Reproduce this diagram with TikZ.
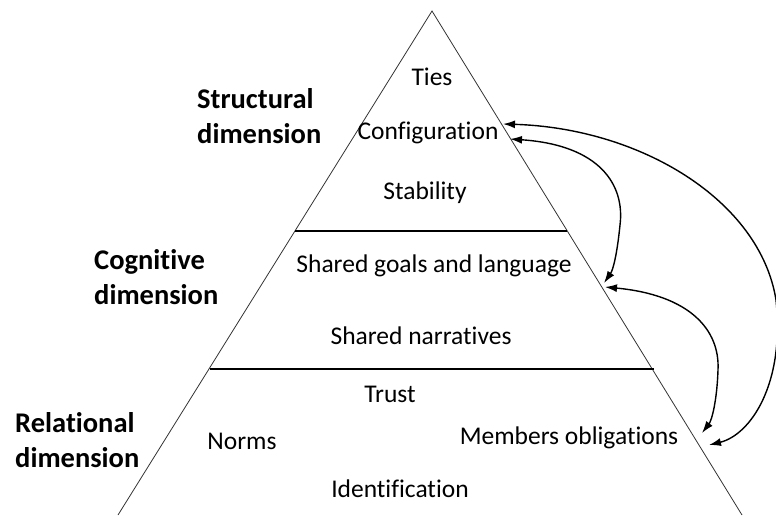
\documentclass[tikz,border=0pt]{standalone}
\usepackage{fontspec}
\setmainfont{Carlito}[Ligatures=CommonOff]
\usetikzlibrary{arrows.meta}
\begin{document}
\begin{tikzpicture}[x=1pt,y=-1pt,
  lbl/.style={font=\fontsize{25.5}{30}\selectfont, inner sep=0pt},
  dim/.style={font=\fontsize{28.5}{35}\selectfont\bfseries, align=left, anchor=west, inner sep=0pt},
  edge/.style={line width=0.8pt, draw=black!80},
  sep/.style={line width=1.4pt},
  link/.style={line width=1.4pt, {Latex[length=12pt,width=8pt]}-{Latex[length=12pt,width=8pt]}}]
\useasboundingbox (0,0) rectangle (776,515);
% triangle
\coordinate (apex) at (432,11);
\coordinate (bl) at (118,515);
\coordinate (br) at (742,515);
\draw[edge] (bl) -- (apex) -- (br);
\coordinate (s1l) at (295,231);
\coordinate (s1r) at (567,231);
\coordinate (s2l) at (210,369);
\coordinate (s2r) at (654,369);
\draw[sep] (s1l) -- (s1r);
\draw[sep] (s2l) -- (s2r);
% labels
\node[lbl] (ties) at (432,77) {Ties};
\node[lbl] (conf) at (428,133) {Configuration};
\node[lbl] (stab) at (425,193) {Stability};
\node[lbl] (goals) at (434,266) {Shared goals and language};
\node[lbl] (narr) at (421,336) {Shared narratives};
\node[lbl] (trust) at (390,394) {Trust};
\node[lbl] (norms) at (242,441) {Norms};
\node[lbl] (oblig) at (569,438) {Members obligations};
\node[lbl] (ident) at (400,489) {Identification};
\node[dim] (struct) at (197,116) {Structural\\dimension};
\node[dim] (cogn) at (94,277) {Cognitive\\dimension};
\node[dim] (rel) at (15,440) {Relational\\dimension};
% arrow ends
\coordinate (a1s) at (503,124);
\coordinate (a1e) at (709,445);
\coordinate (a2s) at (510,139);
\coordinate (a2e) at (604,283);
\coordinate (a3s) at (605,287);
\coordinate (a3e) at (702,433);
\draw[link] (a1s) .. controls (640,128) and (760,200) .. (776,300) .. controls (785,385) and (750,435) .. (a1e);
\draw[link] (a2s) .. controls (600,145) and (625,185) .. (620,225) .. controls (617,255) and (613,270) .. (a2e);
\draw[link] (a3s) .. controls (690,295) and (720,330) .. (718,370) .. controls (717,400) and (712,420) .. (a3e);
\end{tikzpicture}
\end{document}
